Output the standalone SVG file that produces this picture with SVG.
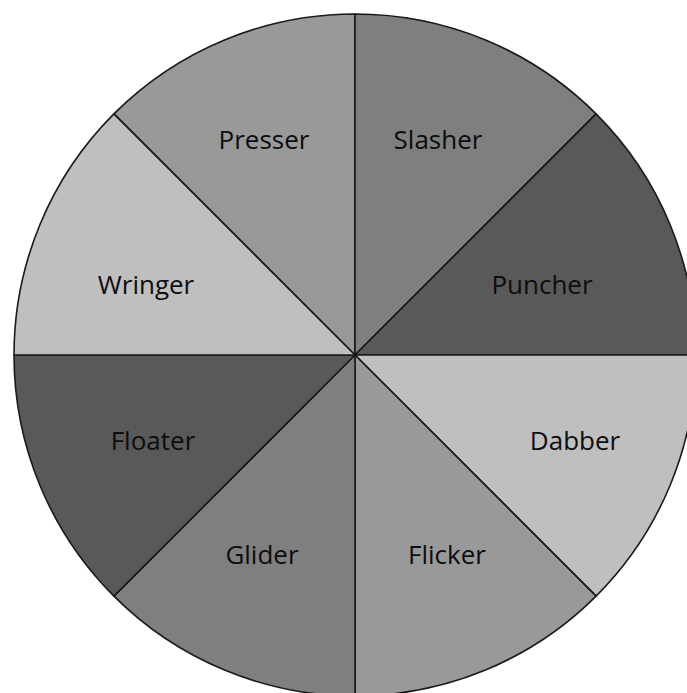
<svg xmlns="http://www.w3.org/2000/svg" width="687" height="693" viewBox="0 0 687 693">
<style>
.s{stroke:#1a1a1a;stroke-width:1.6;stroke-linejoin:round}
.t{font-family:"Open Sans","Liberation Sans",sans-serif;font-size:26px;fill:#0d0d0d;text-anchor:middle}
.c1{fill:#bfbfbf}.c2{fill:#999999}.c3{fill:#7f7f7f}.c4{fill:#595959}
</style>
<rect width="687" height="693" fill="#ffffff"/>
<g id="presser"><path class="s c2" d="M355,355 L355,14 A341,341 0 0 0 113.9,113.9 Z"/><text class="t" x="264" y="149">Presser</text></g>
<g id="slasher"><path class="s c3" d="M355,355 L355,14 A341,341 0 0 1 596.1,113.9 Z"/><text class="t" x="438" y="149">Slasher</text></g>
<g id="puncher"><path class="s c4" d="M355,355 L596.1,113.9 A341,341 0 0 1 696,355 Z"/><text class="t" x="542" y="294">Puncher</text></g>
<g id="dabber"><path class="s c1" d="M355,355 L696,355 A341,341 0 0 1 596.1,596.1 Z"/><text class="t" x="575" y="450">Dabber</text></g>
<g id="flicker"><path class="s c2" d="M355,355 L596.1,596.1 A341,341 0 0 1 355,696 Z"/><text class="t" x="447" y="564">Flicker</text></g>
<g id="glider"><path class="s c3" d="M355,355 L355,696 A341,341 0 0 1 113.9,596.1 Z"/><text class="t" x="262" y="564">Glider</text></g>
<g id="floater"><path class="s c4" d="M355,355 L113.9,596.1 A341,341 0 0 1 14,355 Z"/><text class="t" x="153" y="450">Floater</text></g>
<g id="wringer"><path class="s c1" d="M355,355 L14,355 A341,341 0 0 1 113.9,113.9 Z"/><text class="t" x="146" y="294">Wringer</text></g>
<g id="connectors"></g>
</svg>
